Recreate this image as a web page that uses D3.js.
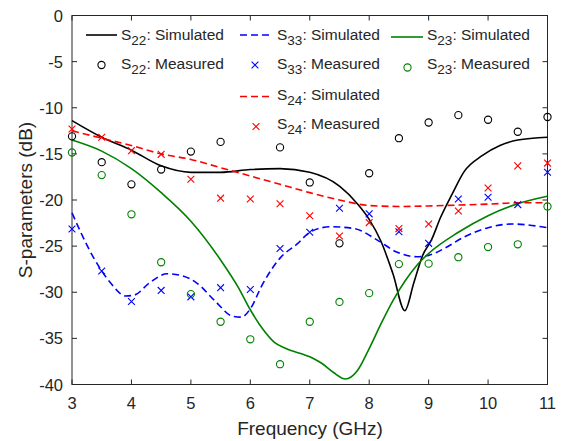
<!DOCTYPE html>
<html><head><meta charset="utf-8">
<script src="https://cdn.jsdelivr.net/npm/d3@7"></script>
<style>body{margin:0;background:#fff}svg{display:block}text{font-family:"Liberation Sans",Arial,sans-serif;fill:#262626}</style>
</head><body><svg id="c" width="574" height="441"></svg>
<script>
const xTicks = [3,4,5,6,7,8,9,10,11];
const yTicks = [0,-5,-10,-15,-20,-25,-30,-35,-40];

const freqMeas = [3,3.5,4,4.5,5,5.5,6,6.5,7,7.5,8,8.5,9,9.5,10,10.5,11];
const s22Meas = [-13.1,-15.9,-18.3,-16.7,-14.75,-13.7,null,-14.3,-18.1,-24.7,-17.1,-13.3,-11.6,-10.8,-11.3,-12.6,-11.0];
const s33Meas = [-23.15,-27.7,-31.0,-29.8,-30.5,-29.5,-29.7,-25.25,-23.5,-20.9,-21.5,-23.45,-24.7,-19.9,-19.7,-20.5,-17.0];
const s23Meas = [-14.85,-17.3,-21.55,-26.75,-30.2,-33.2,-35.1,-37.8,-33.2,-31.05,-30.1,-26.95,-26.9,-26.2,-25.1,-24.8,-20.7];
const s24Meas = [-12.3,-13.2,-14.65,-15.05,-17.75,-19.8,-19.9,-20.4,-21.7,-23.9,-22.45,-23.1,-22.6,-21.2,-18.7,-16.3,-16.0];

const s22SimF = [3,3.5,4,4.5,5,5.5,6,6.5,7,7.5,7.8,8,8.2,8.4,8.6,8.75,8.9,9.05,9.2,9.4,9.6,9.9,10.2,10.5,11];
const s22SimV = [-11.4,-13.2,-14.6,-16.3,-17.0,-17.0,-16.7,-16.6,-17.0,-18.5,-20.4,-22.1,-24.5,-28.0,-32.0,-29.0,-26.0,-24.3,-21.9,-19.3,-16.9,-15.2,-14.1,-13.5,-13.2];

const s33SimF = [3,3.35,3.65,3.9,4.05,4.3,4.6,4.85,5.1,5.4,5.7,5.85,6.0,6.2,6.5,6.8,7.0,7.35,7.75,8.15,8.45,8.8,9.0,9.25,9.6,10.0,10.4,10.9,11];
const s33SimV = [-21.4,-26.1,-29.0,-30.4,-30.3,-29.0,-28.0,-28.2,-29.0,-30.9,-32.6,-32.7,-31.8,-29.2,-26.3,-24.7,-23.5,-22.9,-23.1,-24.4,-25.6,-26.15,-26.0,-25.3,-24.0,-23.0,-22.6,-22.9,-23.0];

const s23SimF = [3,3.5,4,4.5,5,5.5,5.8,6,6.2,6.4,6.6,7,7.2,7.4,7.6,7.8,8,8.2,8.4,8.6,8.8,9,9.5,10,10.5,11];
const s23SimV = [-13.5,-14.7,-16.6,-19.2,-22.3,-26.5,-29.5,-31.9,-33.9,-35.4,-36.1,-37.0,-37.7,-38.7,-39.4,-38.5,-36.1,-33.4,-30.9,-28.8,-27.1,-25.8,-23.5,-21.7,-20.4,-19.6];

const s24SimF = [3,3.5,4,4.5,5,5.5,6,6.5,7,7.5,8,8.5,9,9.5,10,10.5,11];
const s24SimV = [-12.5,-13.3,-14.1,-15.0,-15.6,-16.5,-17.4,-18.3,-19.2,-20.0,-20.6,-20.7,-20.65,-20.55,-20.45,-20.3,-20.3];

const svg = d3.select("#c");
const x = d3.scaleLinear().domain([3,11]).range([72,547.5]);
const y = d3.scaleLinear().domain([-40,0]).range([384.5,15.5]);
const AX = "#262626";

svg.append("rect").attr("x",x(3)).attr("y",y(0)).attr("width",x(11)-x(3)).attr("height",y(-40)-y(0))
  .attr("fill","none").attr("stroke",AX).attr("stroke-width",1);

const tl = 5;
xTicks.forEach(t=>{
  svg.append("line").attr("x1",x(t)).attr("x2",x(t)).attr("y1",y(-40)).attr("y2",y(-40)-tl).attr("stroke",AX);
  svg.append("line").attr("x1",x(t)).attr("x2",x(t)).attr("y1",y(0)).attr("y2",y(0)+tl).attr("stroke",AX);
  svg.append("text").attr("x",x(t)).attr("y",409).attr("text-anchor","middle").attr("font-size","16.5px").text(t);
});
yTicks.forEach(t=>{
  svg.append("line").attr("x1",x(3)).attr("x2",x(3)+tl).attr("y1",y(t)).attr("y2",y(t)).attr("stroke",AX);
  svg.append("line").attr("x1",x(11)).attr("x2",x(11)-tl).attr("y1",y(t)).attr("y2",y(t)).attr("stroke",AX);
  svg.append("text").attr("x",63).attr("y",y(t)+6).attr("text-anchor","end").attr("font-size","16.5px").text(t===0?"0":"-"+Math.abs(t));
});

svg.append("text").attr("x",310).attr("y",435).attr("text-anchor","middle").attr("font-size","19px").text("Frequency (GHz)");
svg.append("text").attr("transform","translate(32,200) rotate(-90)").attr("text-anchor","middle").attr("font-size","19px").text("S-parameters (dB)");

const g = svg.append("g");
function simLine(F,V,color,dash,curve){
  const pts = F.map((f,i)=>[f,V[i]]);
  g.append("path").datum(pts).attr("fill","none").attr("stroke",color).attr("stroke-width",1.6)
    .attr("stroke-dasharray",dash||null)
    .attr("d",d3.line().x(d=>x(d[0])).y(d=>y(d[1])).curve(curve||d3.curveMonotoneX));
}
function circles(V,color){
  freqMeas.forEach((f,i)=>{ if(V[i]==null) return;
    g.append("circle").attr("cx",x(f)).attr("cy",y(V[i])).attr("r",3.6).attr("fill","none").attr("stroke",color).attr("stroke-width",1.1);
  });
}
function crossAt(cx,cy,color){
  const s=3.4;
  g.append("path").attr("d",`M${cx-s},${cy-s}L${cx+s},${cy+s}M${cx-s},${cy+s}L${cx+s},${cy-s}`).attr("stroke",color).attr("stroke-width",1.1).attr("fill","none");
}
function crosses(V,color){ freqMeas.forEach((f,i)=>{ if(V[i]!=null) crossAt(x(f),y(V[i]),color); }); }

simLine(s22SimF,s22SimV,"#000000");
simLine(s33SimF,s33SimV,"#0000ff","7,4");
simLine(s23SimF,s23SimV,"#008000");
simLine(s24SimF,s24SimV,"#ff0000","7,4");
circles(s22Meas,"#000000");
crosses(s33Meas,"#0000ff");
circles(s23Meas,"#008000");
crosses(s24Meas,"#ff0000");

function label(tx,ty,sub,rest){
  const t = svg.append("text").attr("x",tx).attr("y",ty).attr("font-size","15.5px").attr("fill","#000");
  t.append("tspan").text("S");
  t.append("tspan").attr("font-size","13.5px").attr("dy",5).text(sub);
  t.append("tspan").attr("dy",-5).text(": "+rest);
}
function legLine(x1,x2,yy,color,dash){
  svg.append("line").attr("x1",x1).attr("x2",x2).attr("y1",yy).attr("y2",yy).attr("stroke",color).attr("stroke-width",1.6).attr("stroke-dasharray",dash||null);
}
legLine(86,117,35,"#000000"); label(121,39.5,"22","Simulated");
svg.append("circle").attr("cx",101.5).attr("cy",65).attr("r",3.6).attr("fill","none").attr("stroke","#000").attr("stroke-width",1.1);
label(121,68.5,"22","Measured");
legLine(240,273,35,"#0000ff","7,4"); label(277,39.5,"33","Simulated");
crossAt(255,65,"#0000ff"); label(277,68.5,"33","Measured");
legLine(240,273,96.5,"#ff0000","7,4"); label(277,100,"24","Simulated");
crossAt(256,126.5,"#ff0000"); label(277,129,"24","Measured");
legLine(391,423,37,"#008000"); label(427,39.5,"23","Simulated");
svg.append("circle").attr("cx",407.5).attr("cy",67.5).attr("r",3.6).attr("fill","none").attr("stroke","#008000").attr("stroke-width",1.1);
label(427,68.5,"23","Measured");
</script></body></html>
